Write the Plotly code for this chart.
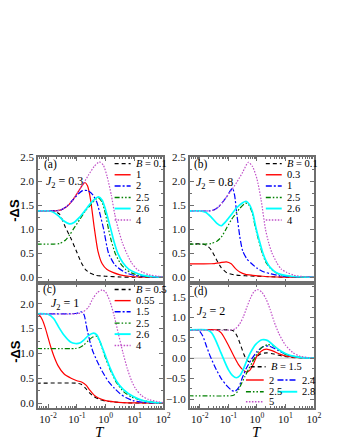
import numpy as np
import plotly.graph_objects as go

# ---------------------------------------------------------------------------
#  Data: log10(T) positions and -dS values, per curve
# ---------------------------------------------------------------------------

# (a) J2 = 0.3
a_b01_logt = [-2.4, -1.8, -1.6, -1.4, -1.2, -1.0, -0.85, -0.7, -0.55, -0.35, 0.0, 0.5, 1.0, 2.0]
a_b01_s = [1.38, 1.38, 1.31, 1.04, 0.8, 0.52, 0.31, 0.16, 0.09, 0.04, 0.02, 0.005, 0.0, 0.0]
a_b1_logt = [-2.4, -1.75, -1.55, -1.35, -1.15, -0.95, -0.8, -0.72, -0.63, -0.52, -0.4, -0.27, -0.12, 0.05, 0.25, 0.5, 0.8, 1.2, 2.0]
a_b1_s = [1.38, 1.38, 1.4, 1.47, 1.6, 1.78, 1.92, 1.97, 1.9, 1.6, 1.05, 0.55, 0.28, 0.16, 0.1, 0.05, 0.02, 0.005, 0.0]
a_b2_logt = [-2.4, -1.75, -1.55, -1.35, -1.15, -0.95, -0.8, -0.62, -0.45, -0.3, -0.17, -0.07, 0.1, 0.33, 0.67, 1.0, 1.4, 2.0]
a_b2_s = [1.38, 1.38, 1.4, 1.47, 1.6, 1.73, 1.8, 1.8, 1.72, 1.55, 1.25, 1.0, 0.5, 0.25, 0.1, 0.04, 0.01, 0.0]
a_b25_logt = [-2.4, -1.8, -1.6, -1.4, -1.25, -1.1, -0.9, -0.7, -0.5, -0.35, -0.25, -0.12, 0.0, 0.1, 0.2, 0.33, 0.5, 0.7, 0.9, 1.2, 1.6, 2.0]
a_b25_s = [0.69, 0.69, 0.7, 0.77, 0.88, 1.02, 1.2, 1.38, 1.52, 1.62, 1.65, 1.56, 1.3, 1.0, 0.75, 0.5, 0.3, 0.16, 0.09, 0.03, 0.008, 0.0]
a_b26_logt = [-2.4, -2.0, -1.85, -1.65, -1.45, -1.25, -1.1, -0.9, -0.7, -0.5, -0.35, -0.25, -0.12, 0.0, 0.18, 0.3, 0.42, 0.6, 0.8, 1.02, 1.3, 1.7, 2.0]
a_b26_s = [1.38, 1.38, 1.36, 1.28, 1.17, 1.11, 1.14, 1.25, 1.4, 1.55, 1.64, 1.67, 1.6, 1.4, 1.0, 0.72, 0.5, 0.3, 0.17, 0.1, 0.04, 0.01, 0.0]
a_b4_logt = [-2.4, -1.75, -1.55, -1.35, -1.15, -0.95, -0.8, -0.6, -0.4, -0.22, -0.08, 0.05, 0.2, 0.32, 0.44, 0.58, 0.73, 0.9, 1.1, 1.3, 1.5, 1.8, 2.0]
a_b4_s = [1.38, 1.38, 1.4, 1.47, 1.6, 1.78, 1.92, 2.12, 2.3, 2.4, 2.33, 2.1, 1.7, 1.3, 1.0, 0.72, 0.5, 0.3, 0.16, 0.1, 0.05, 0.02, 0.01]

# (b) J2 = 0.8
b_b01_logt = [-2.4, -1.9, -1.75, -1.6, -1.42, -1.25, -1.05, -0.8, -0.4, 0.0, 0.5, 1.0, 2.0]
b_b01_s = [0.69, 0.69, 0.66, 0.57, 0.37, 0.2, 0.09, 0.05, 0.03, 0.02, 0.01, 0.0, 0.0]
b_b03_logt = [-2.4, -1.6, -1.3, -1.07, -0.9, -0.75, -0.6, -0.4, -0.15, 0.2, 0.7, 1.2, 2.0]
b_b03_s = [0.28, 0.28, 0.3, 0.32, 0.28, 0.18, 0.11, 0.06, 0.04, 0.02, 0.005, 0.0, 0.0]
b_b1_logt = [-2.4, -1.65, -1.5, -1.35, -1.2, -1.05, -0.93, -0.85, -0.78, -0.7, -0.6, -0.5, -0.35, -0.2, 0.0, 0.25, 0.5, 0.8, 1.2, 2.0]
b_b1_s = [1.38, 1.38, 1.4, 1.46, 1.56, 1.68, 1.8, 1.85, 1.7, 1.3, 0.85, 0.55, 0.38, 0.29, 0.19, 0.11, 0.07, 0.03, 0.01, 0.0]
b_b25_logt = [-2.4, -1.8, -1.6, -1.4, -1.25, -1.1, -0.9, -0.6, -0.4, -0.3, -0.17, -0.04, 0.07, 0.19, 0.3, 0.45, 0.65, 0.9, 1.2, 1.6, 2.0]
b_b25_s = [0.69, 0.69, 0.7, 0.75, 0.83, 0.98, 1.19, 1.43, 1.54, 1.52, 1.35, 1.0, 0.75, 0.5, 0.33, 0.2, 0.1, 0.04, 0.015, 0.005, 0.0]
b_b26_logt = [-2.4, -2.0, -1.8, -1.6, -1.4, -1.25, -1.1, -0.9, -0.7, -0.5, -0.38, -0.27, -0.15, -0.03, 0.08, 0.2, 0.32, 0.47, 0.67, 0.9, 1.2, 1.6, 2.0]
b_b26_s = [1.38, 1.38, 1.35, 1.25, 1.12, 1.07, 1.15, 1.3, 1.45, 1.55, 1.58, 1.52, 1.35, 1.02, 0.77, 0.52, 0.34, 0.2, 0.1, 0.05, 0.02, 0.005, 0.0]
b_b4_logt = [-2.4, -1.65, -1.5, -1.35, -1.2, -1.05, -0.9, -0.7, -0.5, -0.3, -0.15, 0.0, 0.15, 0.3, 0.42, 0.53, 0.7, 0.85, 1.05, 1.3, 1.6, 2.0]
b_b4_s = [1.38, 1.38, 1.4, 1.46, 1.56, 1.68, 1.8, 1.98, 2.18, 2.39, 2.3, 2.05, 1.6, 1.0, 0.7, 0.5, 0.3, 0.17, 0.1, 0.04, 0.015, 0.0]

# (c) J2 = 1
c_b05_logt = [-2.4, -1.0, -0.85, -0.7, -0.55, -0.4, -0.2, 0.0, 0.3, 0.7, 1.2, 2.0]
c_b05_s = [0.4, 0.4, 0.38, 0.3, 0.2, 0.13, 0.07, 0.04, 0.02, 0.005, 0.0, 0.0]
c_b055_logt = [-2.4, -2.3, -2.2, -2.1, -2.0, -1.9, -1.8, -1.65, -1.45, -1.2, -1.0, -0.82, -0.68, -0.55, -0.4, -0.25, 0.0, 0.3, 0.6, 1.0, 2.0]
c_b055_s = [1.8, 1.77, 1.68, 1.52, 1.32, 1.12, 0.95, 0.75, 0.59, 0.5, 0.45, 0.42, 0.36, 0.26, 0.16, 0.1, 0.05, 0.025, 0.01, 0.002, 0.0]
c_b15_logt = [-2.4, -1.2, -1.0, -0.85, -0.75, -0.65, -0.55, -0.45, -0.3, -0.1, 0.1, 0.3, 0.5, 0.7, 0.95, 1.3, 1.7, 2.0]
c_b15_s = [1.8, 1.8, 1.81, 1.84, 1.78, 1.5, 1.25, 1.05, 0.85, 0.62, 0.43, 0.3, 0.19, 0.11, 0.05, 0.015, 0.004, 0.0]
c_b25_logt = [-2.4, -1.05, -0.9, -0.76, -0.6, -0.45, -0.33, -0.2, -0.05, 0.15, 0.38, 0.62, 0.9, 1.3, 1.75, 2.0]
c_b25_s = [1.1, 1.1, 1.12, 1.17, 1.26, 1.33, 1.35, 1.24, 0.98, 0.68, 0.41, 0.23, 0.12, 0.05, 0.01, 0.0]
c_b26_logt = [-2.4, -2.0, -1.8, -1.63, -1.45, -1.22, -1.05, -0.9, -0.76, -0.6, -0.42, -0.3, -0.19, -0.02, 0.16, 0.39, 0.62, 0.96, 1.3, 1.75, 2.0]
c_b26_s = [1.8, 1.79, 1.7, 1.53, 1.37, 1.23, 1.2, 1.21, 1.27, 1.36, 1.41, 1.37, 1.23, 0.97, 0.7, 0.43, 0.27, 0.13, 0.05, 0.01, 0.0]
c_b4_logt = [-2.4, -1.0, -0.8, -0.6, -0.45, -0.3, -0.12, 0.0, 0.15, 0.3, 0.45, 0.6, 0.75, 0.9, 1.05, 1.25, 1.5, 1.8, 2.0]
c_b4_s = [1.8, 1.8, 1.83, 1.93, 2.1, 2.22, 2.28, 2.24, 2.05, 1.75, 1.38, 1.02, 0.7, 0.45, 0.28, 0.15, 0.07, 0.03, 0.01]

# (d) J2 = 2
d_b15_logt = [-2.4, -0.95, -0.8, -0.68, -0.56, -0.46, -0.36, -0.26, -0.16, -0.02, 0.15, 0.35, 0.6, 0.9, 1.2, 1.6, 2.0]
d_b15_s = [0.69, 0.69, 0.66, 0.52, 0.3, 0.1, -0.04, -0.09, -0.06, 0.03, 0.11, 0.13, 0.1, 0.05, 0.02, 0.005, 0.0]
d_b2_logt = [-2.4, -1.4, -1.25, -1.1, -0.95, -0.8, -0.65, -0.5, -0.35, -0.25, -0.12, 0.0, 0.15, 0.33, 0.55, 0.8, 1.1, 1.5, 2.0]
d_b2_s = [0.69, 0.69, 0.62, 0.45, 0.25, 0.04, -0.15, -0.28, -0.34, -0.3, -0.14, 0.05, 0.17, 0.22, 0.18, 0.1, 0.04, 0.01, 0.0]
d_b24_logt = [-2.4, -2.05, -1.9, -1.76, -1.63, -1.45, -1.25, -1.05, -0.88, -0.76, -0.64, -0.52, -0.38, -0.2, 0.0, 0.22, 0.42, 0.71, 1.06, 1.5, 2.0]
d_b24_s = [0.69, 0.69, 0.55, 0.28, 0.04, -0.24, -0.5, -0.68, -0.79, -0.81, -0.72, -0.5, -0.26, -0.04, 0.16, 0.28, 0.3, 0.2, 0.08, 0.02, 0.0]
d_b25_logt = [-2.4, -0.9, -0.8, -0.68, -0.55, -0.42, -0.3, -0.16, 0.0, 0.15, 0.38, 0.58, 0.8, 1.06, 1.5, 2.0]
d_b25_s = [-0.92, -0.92, -0.9, -0.82, -0.64, -0.45, -0.28, -0.1, 0.1, 0.25, 0.33, 0.3, 0.18, 0.08, 0.02, 0.0]
d_b28_logt = [-2.4, -1.75, -1.6, -1.45, -1.3, -1.15, -1.0, -0.86, -0.72, -0.6, -0.48, -0.36, -0.22, -0.05, 0.18, 0.38, 0.6, 0.85, 1.15, 1.5, 2.0]
d_b28_s = [0.69, 0.69, 0.63, 0.45, 0.2, -0.05, -0.28, -0.42, -0.48, -0.43, -0.28, -0.07, 0.14, 0.33, 0.45, 0.43, 0.3, 0.17, 0.07, 0.02, 0.0]
d_b5_logt = [-2.4, -0.9, -0.75, -0.6, -0.47, -0.35, -0.22, -0.1, 0.02, 0.17, 0.32, 0.46, 0.6, 0.77, 1.0, 1.25, 1.5, 1.8, 2.0]
d_b5_s = [0.69, 0.69, 0.72, 0.84, 1.02, 1.25, 1.48, 1.63, 1.68, 1.62, 1.45, 1.2, 0.9, 0.6, 0.32, 0.14, 0.05, 0.015, 0.005]

T_TICKS = [0.01, 0.1, 1, 10, 100]
T_TICKTEXT = ["10<sup>-2</sup>", "10<sup>-1</sup>", "10<sup>0</sup>", "10<sup>1</sup>", "10<sup>2</sup>"]

# ---------------------------------------------------------------------------
#  Styles
# ---------------------------------------------------------------------------
SERIF = "Liberation Serif, Times New Roman, serif"
SANS = "Liberation Sans, Arial, sans-serif"
FRAME = "#6e6e6e"

STYLE = {
    "k": dict(color="#000000", width=1.1, dash="4px,3px"),
    "r": dict(color="#ff0000", width=1.2, dash="solid"),
    "b": dict(color="#0000ff", width=1.2, dash="6px,2px,2px,2px"),
    "g": dict(color="#008000", width=1.2, dash="5px,2px,1.5px,2px,1.5px,2px"),
    "c": dict(color="#00ffff", width=1.7, dash="solid"),
    "m": dict(color="#c050c8", width=1.2, dash="1.5px,1.5px"),
}

PANELS = [
    ("x", "y", [
        (a_b01_logt, a_b01_s, "k", "<i>B</i> = 0.1"),
        (a_b1_logt, a_b1_s, "r", "1"),
        (a_b2_logt, a_b2_s, "b", "2"),
        (a_b25_logt, a_b25_s, "g", "2.5"),
        (a_b26_logt, a_b26_s, "c", "2.6"),
        (a_b4_logt, a_b4_s, "m", "4"),
    ]),
    ("x2", "y2", [
        (b_b01_logt, b_b01_s, "k", "<i>B</i> = 0.1"),
        (b_b03_logt, b_b03_s, "r", "0.3"),
        (b_b1_logt, b_b1_s, "b", "1"),
        (b_b25_logt, b_b25_s, "g", "2.5"),
        (b_b26_logt, b_b26_s, "c", "2.6"),
        (b_b4_logt, b_b4_s, "m", "4"),
    ]),
    ("x3", "y3", [
        (c_b05_logt, c_b05_s, "k", "<i>B</i> = 0.5"),
        (c_b055_logt, c_b055_s, "r", "0.55"),
        (c_b15_logt, c_b15_s, "b", "1.5"),
        (c_b25_logt, c_b25_s, "g", "2.5"),
        (c_b26_logt, c_b26_s, "c", "2.6"),
        (c_b4_logt, c_b4_s, "m", "4"),
    ]),
    ("x4", "y4", [
        (d_b15_logt, d_b15_s, "k", "<i>B</i> = 1.5"),
        (d_b2_logt, d_b2_s, "r", "2"),
        (d_b24_logt, d_b24_s, "b", "2.4"),
        (d_b25_logt, d_b25_s, "g", "2.5"),
        (d_b28_logt, d_b28_s, "c", "2.8"),
        (d_b5_logt, d_b5_s, "m", "5"),
    ]),
]

fig = go.Figure()

# zero reference line in (d)
fig.add_shape(type="line", xref="x4 domain", yref="y4", x0=0, x1=1, y0=0, y1=0,
              line=dict(color="#c8c8c8", width=1), layer="below")

for xa, ya, curves in PANELS:
    for logt, s, key, label in curves:
        st = STYLE[key]
        fig.add_trace(go.Scatter(
            x=np.power(10.0, logt), y=s, mode="lines",
            line=dict(color=st["color"], width=st["width"], dash=st["dash"],
                      shape="spline", smoothing=0.6),
            xaxis=xa, yaxis=ya, showlegend=False, hoverinfo="skip",
        ))

# ---------------------------------------------------------------------------
#  Hand-drawn legends (compact rows like the original)
# ---------------------------------------------------------------------------
annotations = []
shapes = []
ROWS = [0.948, 0.859, 0.770, 0.679, 0.591, 0.50]
for xa, ya, curves in PANELS[:3]:
    for (logt, s, key, label), yy in zip(curves, ROWS):
        st = STYLE[key]
        shapes.append(dict(type="line", xref=f"{xa} domain", yref=f"{ya} domain",
                           x0=0.612, x1=0.74, y0=yy, y1=yy,
                           line=dict(color=st["color"], width=st["width"] + 0.2, dash=st["dash"])))
        annotations.append(dict(text=label, xref=f"{xa} domain", yref=f"{ya} domain",
                                x=0.765, y=yy, xanchor="left", yanchor="middle", showarrow=False,
                                font=dict(family=SERIF, size=10.5, color="#000")))

# (d): two-column legend at the bottom
D_LEG = [  # curve index, x0, x1, text x, y
    (0, 0.49, 0.61, 0.635, 0.33),
    (1, 0.452, 0.595, 0.62, 0.224),
    (2, 0.706, 0.865, 0.89, 0.224),
    (3, 0.452, 0.595, 0.62, 0.13),
    (4, 0.706, 0.865, 0.89, 0.13),
    (5, 0.452, 0.595, 0.62, 0.05),
]
d_curves = PANELS[3][2]
for idx, x0, x1, xt, yy in D_LEG:
    _, _, key, label = d_curves[idx]
    st = STYLE[key]
    shapes.append(dict(type="line", xref="x4 domain", yref="y4 domain", x0=x0, x1=x1, y0=yy, y1=yy,
                       line=dict(color=st["color"], width=st["width"] + 0.2, dash=st["dash"])))
    annotations.append(dict(text=label, xref="x4 domain", yref="y4 domain", x=xt, y=yy,
                            xanchor="left", yanchor="middle", showarrow=False,
                            font=dict(family=SERIF, size=10.5, color="#000")))

# panel tags and J2 labels
TAGS = [
    ("x", "y", "(a)", 0.03, 0.94, "<i>J</i><sub>2</sub> = 0.3", 0.047, 0.80),
    ("x2", "y2", "(b)", 0.015, 0.94, "<i>J</i><sub>2</sub> = 0.8", 0.03, 0.795),
    ("x3", "y3", "(c)", 0.025, 0.947, "<i>J</i><sub>2</sub> = 1", 0.09, 0.83),
    ("x4", "y4", "(d)", 0.015, 0.93, "<i>J</i><sub>2</sub> = 2", 0.04, 0.77),
]
for xa, ya, tag, tx, ty, jtxt, jx, jy in TAGS:
    annotations.append(dict(text=tag, xref=f"{xa} domain", yref=f"{ya} domain", x=tx, y=ty,
                            xanchor="left", yanchor="middle", showarrow=False,
                            font=dict(family=SERIF, size=11.5, color="#000")))
    annotations.append(dict(text=jtxt, xref=f"{xa} domain", yref=f"{ya} domain", x=jx, y=jy,
                            xanchor="left", yanchor="middle", showarrow=False,
                            font=dict(family=SERIF, size=12, color="#000")))

# axis titles
for yy in (0.789, 0.227):
    annotations.append(dict(text="<b>-ΔS</b>", xref="paper", yref="paper", x=-0.084, y=yy,
                            textangle=-90, xanchor="center", yanchor="middle", showarrow=False,
                            font=dict(family=SANS, size=13, color="#000")))
for xx in (0.225, 0.793):
    annotations.append(dict(text="<i>T</i>", xref="paper", yref="paper", x=xx, y=-0.094,
                            xanchor="center", yanchor="middle", showarrow=False,
                            font=dict(family=SERIF, size=15, color="#000")))

# ---------------------------------------------------------------------------
#  Axes
# ---------------------------------------------------------------------------
common = dict(showline=True, linecolor=FRAME, linewidth=1.5, mirror="allticks",
              ticks="inside", ticklen=4, tickwidth=1, tickcolor=FRAME,
              showgrid=False, zeroline=False,
              tickfont=dict(family=SERIF, size=11, color="#111"))


def x_axis(domain, anchor, labels):
    return dict(common, domain=domain, anchor=anchor, type="log", range=[-2.35, 2.0],
                tickmode="array", tickvals=T_TICKS, ticktext=T_TICKTEXT,
                showticklabels=labels,
                minor=dict(ticks="inside", ticklen=2, tickcolor=FRAME, dtick="D1", showgrid=False))


def y_axis(domain, anchor, rng):
    return dict(common, domain=domain, anchor=anchor, range=rng, dtick=0.5, tick0=0,
                tickformat=".1f",
                minor=dict(ticks="inside", ticklen=2, tickcolor=FRAME, dtick=0.25, tick0=0, showgrid=False))


XL, XR = [0.0, 0.4536], [0.55, 1.0]
YT, YB = [0.498, 1.0], [0.0, 0.498]

# the page body adds an 8px offset; margins are shifted to compensate
fig.update_layout(
    width=340, height=440,
    margin=dict(l=26, r=34, t=149, b=40),
    paper_bgcolor="white", plot_bgcolor="white",
    showlegend=False,
    xaxis=x_axis(XL, "y", False),
    xaxis2=x_axis(XR, "y2", False),
    xaxis3=x_axis(XL, "y3", True),
    xaxis4=x_axis(XR, "y4", True),
    yaxis=y_axis(YT, "x", [-0.12, 2.5]),
    yaxis2=y_axis(YT, "x2", [-0.12, 2.5]),
    yaxis3=y_axis(YB, "x3", [-0.1, 2.42]),
    yaxis4=y_axis(YB, "x4", [-1.22, 1.84]),
    annotations=annotations,
)
for sh in shapes:
    fig.add_shape(**sh)

fig.write_html("out.html")
